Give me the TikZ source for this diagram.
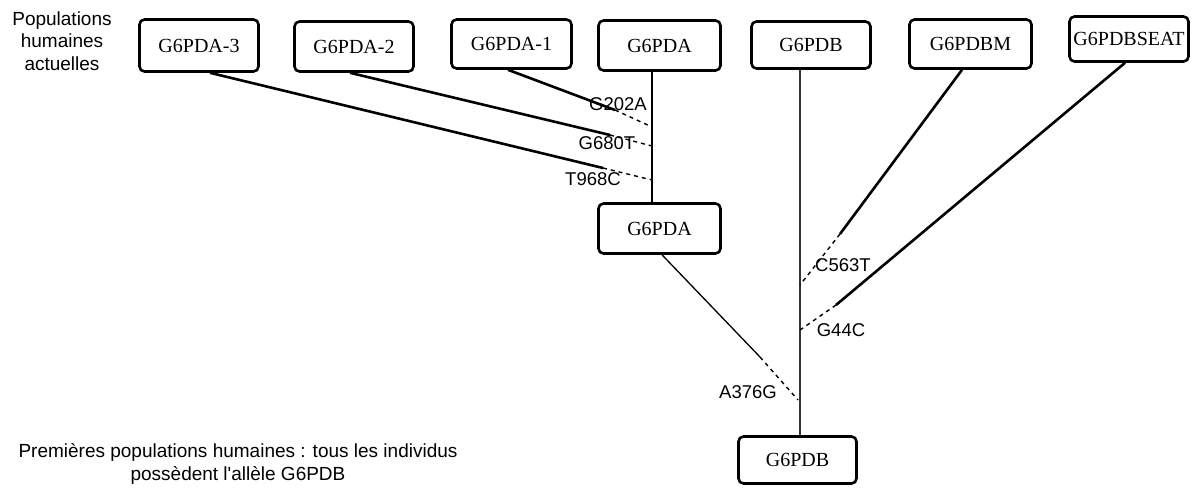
\documentclass[tikz,border=0pt]{standalone}
\usepackage{fontspec}
\setmainfont{Liberation Serif}
\newfontfamily\labelfont{Liberation Sans}
\usetikzlibrary{calc}
\begin{document}
\begin{tikzpicture}[x=1pt,y=-1pt,
  allele/.style={draw, line width=2.6pt, rounded corners=5pt, inner sep=0pt,
    font=\fontsize{20}{22}\selectfont},
  note/.style={font=\labelfont\fontsize{19}{22.5}\selectfont, align=center, inner sep=0pt},
  mut/.style={font=\labelfont\fontsize{18.5}{20}\selectfont, inner sep=0pt},
  lineage/.style={line width=2.6pt},
  trunk/.style={line width=2pt},
  thin/.style={line width=1.3pt},
  fork/.style={line width=1.4pt, dash pattern=on 4pt off 4pt}]
\useasboundingbox (0,0) rectangle (1194,491);

% present-day alleles
\node[allele, minimum width=119, minimum height=52] (a3)    at (199,45.5)   {G6PDA-3};
\node[allele, minimum width=119, minimum height=50] (a2)    at (354,46.5)   {G6PDA-2};
\node[allele, minimum width=120, minimum height=49] (a1)    at (511.5,44)   {G6PDA-1};
\node[allele, minimum width=122, minimum height=50] (atop)  at (659.5,45.5) {G6PDA};
\node[allele, minimum width=119, minimum height=47] (btop)  at (811,45)     {G6PDB};
\node[allele, minimum width=122, minimum height=49] (bm)    at (970.5,44)   {G6PDBM};
\node[allele, minimum width=119, minimum height=45] (bseat) at (1129,39)    {G6PDBSEAT};

% ancestral alleles
\node[allele, minimum width=122, minimum height=50] (amid)  at (659.5,228.5) {G6PDA};
\node[allele, minimum width=118, minimum height=47] (bbot)  at (797.5,460)   {G6PDB};

% side notes
\node[note] (now)  at (62,41)   {Populations\\humaines\\actuelles};
\node[note] (past) at (238,464) {Premières populations humaines : tous les individus\\possèdent l'allèle G6PDB};

% mutation points on the trunks and where the solid branches stop
\coordinate (m202) at (652,127);  \coordinate (s202) at (615,110);
\coordinate (m680) at (652,146);  \coordinate (s680) at (610,135);
\coordinate (m968) at (652,180);  \coordinate (s968) at (603,168);
\coordinate (m563) at (800,285);  \coordinate (s563) at (840,234);
\coordinate (m44)  at (800,330);  \coordinate (s44)  at (836,305);
\coordinate (m376) at (798,400);  \coordinate (s376) at (760,357);

% trunks
\draw[trunk] ($(atop.south)+(-7.5,0)$) -- ($(amid.north)+(-7.5,0)$);
\draw[trunk, black!80] ($(btop.south)+(-11,0)$) -- ($(bbot.north)+(2.5,0)$);

% branches of the G6PDA lineage
\draw[lineage] ($(a3.south)+(11,0)$) -- (s968);
\draw[fork] (s968) -- (m968);
\draw[lineage] ($(a2.south)+(-4,0)$) -- (s680);
\draw[fork] (s680) -- (m680);
\draw[lineage] ($(a1.south)+(-3.5,0)$) -- (s202);
\draw[fork] (s202) -- (m202);

% branches of the G6PDB lineage
\draw[lineage] ($(bm.south)+(-8.5,0)$) -- (s563);
\draw[fork] (s563) -- (m563);
\draw[lineage] ($(bseat.south)+(-4,0)$) -- (s44);
\draw[fork] (s44) -- (m44);
\draw[thin] ($(amid.south)+(2.5,0)$) -- (s376);
\draw[fork] (s376) -- (m376);

% mutation labels
\node[mut] (l202) at (618,104) {G202A};
\node[mut] (l680) at (607,143) {G680T};
\node[mut] (l968) at (593,179) {T968C};
\node[mut] (l563) at (843,265) {C563T};
\node[mut] (l44)  at (841,330) {G44C};
\node[mut] (l376) at (748,392) {A376G};
\end{tikzpicture}
\end{document}
